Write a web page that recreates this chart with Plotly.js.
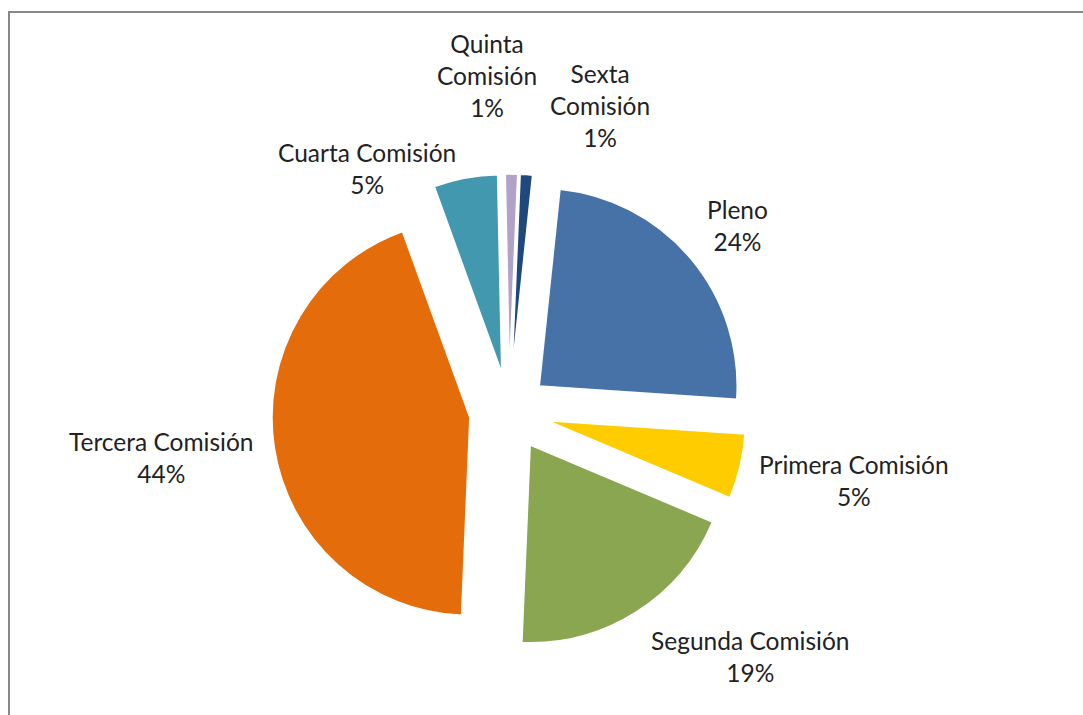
<!DOCTYPE html>
<html>
<head>
<meta charset="utf-8">
<script src="https://cdn.plot.ly/plotly-3.0.1.min.js"></script>
<style>
  html, body { margin: 0; padding: 0; background: #fff; }
  #chart { width: 1083px; height: 715px; }
</style>
</head>
<body>
<div id="chart"></div>
<script>
// share of items by body (percent)
const labels = ['Pleno', 'Primera Comisión', 'Segunda Comisión', 'Tercera Comisión', 'Cuarta Comisión', 'Quinta Comisión', 'Sexta Comisión']
const values = [24.4, 5.3, 19.3, 43.8, 5.2, 1.0, 1.0]
const colors = ['#4672A8', '#FFCC00', '#8AA650', '#E46C0A', '#4298AF', '#B3A2C7', '#1F497D']

// label text with line breaks as in the original
const labelText = ['Pleno', 'Primera Comisión', 'Segunda Comisión', 'Tercera Comisión', 'Cuarta Comisión', 'Quinta<br>Comisión', 'Sexta<br>Comisión']
// label centres in pixels
const labelPos = [[737, 225], [854, 480], [750, 656], [161, 457], [367, 168], [487, 76], [600, 105]]

const W = 1083, H = 715

const pie = () => {
  const total = values.reduce((a, b) => a + b, 0)

  const trace = {
    type: 'pie',
    labels: labels,
    values: values,
    sort: false,
    direction: 'clockwise',
    rotation: 6,
    pull: values.map(() => 0.2),
    marker: { colors: colors, line: { color: '#ffffff', width: 1.5 } },
    textinfo: 'none',
    hoverinfo: 'label+percent',
    domain: { x: [(509 - 300) / W, (509 + 300) / W], y: [(H - 649) / H, (H - 174) / H] },
  }

  const annotations = labels.map((l, i) => ({
    xref: 'paper', yref: 'paper',
    x: labelPos[i][0] / W,
    y: 1 - labelPos[i][1] / H,
    xanchor: 'center', yanchor: 'middle', align: 'center',
    showarrow: false,
    text: labelText[i] + '<br>' + Math.round(values[i] / total * 100) + '%',
    font: { family: 'Lato, sans-serif', size: 24.5, color: '#222222' },
  }))

  const layout = {
    width: W,
    height: H,
    margin: { l: 0, r: 0, t: 0, b: 0 },
    showlegend: false,
    paper_bgcolor: '#ffffff',
    annotations: annotations,
    shapes: [{
      type: 'rect', xref: 'paper', yref: 'paper',
      x0: 9 / W, x1: 1.05, y0: -0.05, y1: 1 - 12 / H,
      line: { color: '#888888', width: 2 },
    }],
  }

  Plotly.newPlot('chart', [trace], layout, { displayModeBar: false })
}

pie()
</script>
</body>
</html>
